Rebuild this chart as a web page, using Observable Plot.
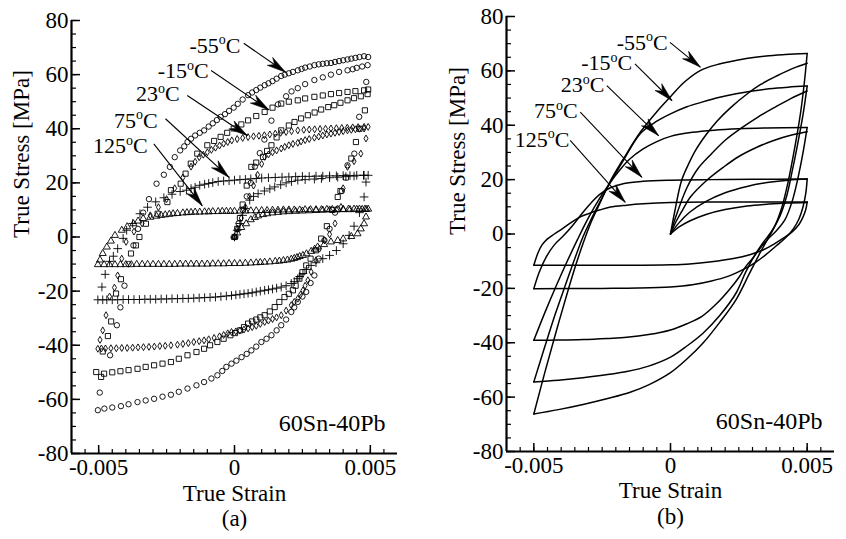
<!DOCTYPE html>
<html><head><meta charset="utf-8">
<script src="https://cdn.jsdelivr.net/npm/d3@7"></script>
<script src="https://cdn.jsdelivr.net/npm/@observablehq/plot@0.6"></script>
<style>
html,body{margin:0;padding:0;background:#fff;}
#wrap{position:relative;width:846px;height:539px;overflow:hidden;background:#fff;}
#pa,#pb{position:absolute;top:0;}
#pa{left:0px}#pb{left:423px}
svg text{fill:#000;}
</style></head>
<body><div id="wrap"><div id="pa"></div><div id="pb"></div></div>
<script>
// ---------- tick values ----------
const yMajor = [-80,-60,-40,-20,0,20,40,60,80];
const yMinor = d3.range(-16,17).map(i=>i*5);
const xMajor = [-0.005,0,0.005];
const xMinor = d3.range(-11,12).map(i=>i*0.0005);
const tempLabels = ["-55°C","-15°C","23°C","75°C","125°C"];

// ---------- panel (a): measured points [strain x1e-3, stress MPa] ----------
const a55init=[0,0,0.15,5,0.3,10,0.45,15,0.6,20,0.75,26,0.93,31,1.1,36,1.36,43,1.6,49,1.9,52,2.1,53.8,2.33,55,2.6,56.5,2.94,58,3.25,59,3.55,60,3.85,61,4.16,61.6,4.35,62,4.5,62.5,4.7,63,4.9,63.5];
const a55up=[-5.03,-64,-4.96,-57.5,-4.58,-43.7,-4.33,-32.6,-4.2,-26,-4.05,-18,-3.9,-10,-3.72,-3.1,-3.55,3,-3.36,9,-3.15,14,-2.87,19.7,-2.6,23,-2.38,25.9,-2.2,29.5,-2,32,-1.85,33.5,-1.73,35.1,-1.6,36.3,-1.45,37.5,-1.28,38.5,-1.12,39.4,-0.95,40.8,-0.8,42,-0.65,43.2,-0.51,44.4,-0.35,45.4,-0.2,46.6,-0.03,47.8,0.12,49.2,0.3,50.8,0.5,52.4,0.65,53.4,0.8,54.3,0.95,55.2,1.11,56.1,1.25,56.8,1.4,57.6,1.55,58.5,1.72,59.5,1.85,60,2,60.5,2.15,61,2.33,61.6,2.47,62.1,2.6,62.6,2.77,63,2.94,63.5,3.1,63.8,3.25,64,3.4,64.2,3.55,64.3,3.7,64.7,3.85,65,4,65.3,4.16,65.6,4.3,65.9,4.45,66.2,4.6,66.5,4.77,66.8,4.92,66.5];
const a55low=[4.85,57.3,4.59,44.4,4.41,30.8,4.16,26.5,3.95,17,3.7,9,3.5,3,3.31,-1.2,3.1,-8,2.94,-14.2,2.8,-17,2.64,-20.3,2.5,-22,2.33,-24,2.2,-26,2.09,-27.7,1.9,-30.5,1.72,-32.6,1.55,-34.5,1.36,-36.3,1.18,-37.6,0.99,-38.8,0.8,-40.5,0.62,-41.9,0.45,-43.2,0.26,-44.4,0.07,-45.7,-0.11,-46.8,-0.3,-48,-0.45,-49.5,-0.63,-51.1,-0.85,-52.3,-1.12,-53.6,-1.4,-54.8,-1.73,-56,-2.05,-57.2,-2.34,-58.3,-2.65,-59,-2.96,-59.8,-3.27,-60.4,-3.57,-61,-3.9,-61.8,-4.18,-62.5,-4.5,-63,-4.79,-63.4];

const a15init=[0,0,0.1,3,0.2,7,0.3,12,0.45,19,0.62,25.9,0.8,27.5,1.05,29.6,1.2,31.8,1.36,33.9,1.55,36.8,1.72,39.4,2,41.2,2.21,42.5,2.45,43.8,2.7,45,2.95,46,3.19,47.1,3.45,48,3.67,48.7,3.9,49.6,4.16,50.5,4.4,51.3,4.65,52,4.9,52.8];
const a15up=[-5.09,-49.9,-4.85,-42.3,-4.66,-36.6,-4.54,-31.2,-4.36,-20.9,-4.18,-15.6,-3.81,-6.1,-3.63,-3.1,-3.5,0,-3.26,4.9,-2.83,8.6,-2.47,12.9,-2.34,17.3,-1.98,19.7,-1.8,23.4,-1.61,27.1,-1.37,30.8,-1,33.9,-0.75,35.5,-0.51,37,-0.27,38.5,-0.03,40.1,0.25,41.6,0.5,43.1,0.8,44.7,1.11,46.2,1.4,47.8,1.72,49.3,2,50,2.33,50.5,2.6,51.2,2.94,51.8,3.25,52.3,3.55,52.8,3.85,53.2,4.16,53.6,4.45,53.9,4.77,54.2,4.92,54.5];
const a15low=[4.8,46.8,4.6,40,4.47,35.1,4.3,29,4.1,22,3.9,17,3.8,14.8,3.6,10,3.4,4,3.19,-0.6,3,-4.9,2.8,-8,2.64,-10.5,2.5,-13,2.39,-15.4,2.25,-18,2.15,-19.7,2,-21,1.84,-22.2,1.65,-24,1.48,-25.9,1.3,-27.5,1.11,-28.9,0.95,-29.7,0.8,-30.5,0.65,-31.2,0.5,-32,0.35,-33.3,0.2,-34.5,0.02,-35.5,-0.15,-36.3,-0.4,-37.6,-0.63,-38.8,-0.9,-40,-1.12,-41.3,-1.4,-42.5,-1.73,-43.7,-2.05,-45,-2.34,-46.2,-2.65,-46.8,-2.96,-47.4,-3.27,-48,-3.57,-48.7,-3.9,-49.2,-4.2,-49.6,-4.5,-50,-4.8,-50.5,-4.91,-51.7];

const a23init=[0,0,0.1,3,0.25,7,0.4,11,0.55,15,0.7,19,0.85,23,1,27,1.11,29.6,1.25,30.5,1.4,31.3,1.55,32,1.72,32.7,1.85,33.3,2,33.9,2.15,34.4,2.33,34.8,2.45,35.3,2.6,35.8,2.75,36.2,2.94,36.7,3.1,37.1,3.25,37.5,3.4,37.9,3.55,38.2,3.7,38.5,3.85,38.8,4,39.1,4.16,39.4,4.3,39.6,4.45,39.8,4.6,40,4.77,40.1];
const a23up=[-5.03,-41.3,-4.95,-38,-4.85,-34.5,-4.73,-28.9,-4.6,-22,-4.42,-18.7,-4.3,-14.2,-4.15,-8,-3.99,-1.8,-3.7,2,-3.4,5,-3.1,8,-2.8,11,-2.5,14,-2.2,18,-1.9,22,-1.6,26,-1.45,27.8,-1.3,29.5,-1.15,30.4,-1,31.3,-0.85,32.2,-0.7,33,-0.55,33.8,-0.4,34.5,-0.25,35.1,-0.1,35.7,0.1,36.2,0.3,36.6,0.5,36.9,0.7,37.2,0.9,37.4,1.1,37.6,1.3,37.9,1.5,38.2,1.7,38.5,1.9,38.8,2.1,39.1,2.33,39.4,2.55,39.6,2.75,39.7,2.95,39.8,3.15,39.9,3.35,40,3.55,40.1,3.75,40.2,3.95,40.3,4.15,40.4,4.35,40.5,4.55,40.6,4.77,40.7,4.92,40.7];
const a23low=[4.84,36.4,4.65,30.8,4.4,28,4.16,25.9,4,18,3.92,11.1,3.7,5,3.5,1,3.31,-1.2,3.13,-4.3,3,-8.6,2.82,-12.9,2.7,-16,2.6,-18,2.52,-19.7,2.43,-21.3,2.33,-22.8,2.2,-24,2.09,-25.2,1.9,-27.2,1.72,-28.9,1.55,-29.7,1.4,-30.3,1.25,-30.9,1.11,-31.4,0.95,-32.1,0.8,-32.8,0.65,-33.3,0.5,-33.8,0.35,-34.2,0.2,-34.6,0.05,-34.9,-0.11,-35.1,-0.25,-35.6,-0.4,-36.2,-0.55,-36.7,-0.75,-37.3,-0.95,-37.8,-1.12,-38.2,-1.3,-38.5,-1.5,-38.8,-1.7,-39.2,-1.9,-39.5,-2.1,-39.8,-2.34,-40,-2.55,-40.2,-2.75,-40.3,-2.95,-40.5,-3.15,-40.6,-3.35,-40.7,-3.55,-40.8,-3.75,-40.9,-3.95,-41,-4.15,-41,-4.35,-41.1,-4.55,-41.1,-4.75,-41.2,-4.9,-41.2];

const a75init=[0,0,0.1,2.5,0.2,5,0.3,8,0.4,10.5,0.56,13.6,0.7,15,0.87,16,1.1,17,1.3,17.8,1.48,18.5,1.7,19.3,1.9,20,2.1,20.5,2.33,21,2.6,21.2,2.94,21.4,3.2,21.6,3.5,21.9,3.8,22.1,4.1,22.3,4.4,22.5,4.77,22.8];
const a75up=[-5.03,-23.2,-4.88,-18.5,-4.76,-13.8,-4.6,-9,-4.46,-7.1,-4.3,-4.3,-4.1,-0.5,-3.97,2.5,-3.75,5,-3.48,8.6,-3.2,11,-2.9,13,-2.6,14.5,-2.3,15.8,-2,16.8,-1.77,17.3,-1.6,17.9,-1.45,18.4,-1.28,19.1,-1.1,19.5,-0.95,19.8,-0.8,20.1,-0.6,20.5,-0.4,20.7,-0.2,20.8,0,21,0.2,21.2,0.4,21.3,0.6,21.5,0.8,21.6,1,21.8,1.25,21.9,1.5,22,1.75,22.1,2,22.2,2.25,22.3,2.5,22.4,2.75,22.4,3,22.5,3.25,22.5,3.5,22.6,3.75,22.6,4,22.7,4.25,22.7,4.5,22.8,4.75,22.8,4.92,22.8];
const a75low=[4.84,20.3,4.77,14.8,4.6,9,4.4,4,4.22,0.6,4,-2.5,3.75,-5,3.5,-6.8,3.25,-8,3,-9.5,2.82,-10.5,2.65,-12,2.52,-13.5,2.4,-14.6,2.33,-15.4,2.2,-16.5,2.09,-17.2,1.9,-18,1.72,-18.5,1.55,-18.9,1.4,-19.2,1.25,-19.5,1.11,-19.7,0.95,-20,0.8,-20.3,0.65,-20.6,0.5,-20.8,0.35,-21,0.2,-21.2,0.05,-21.4,-0.11,-21.6,-0.3,-21.8,-0.5,-22,-0.7,-22.2,-0.9,-22.3,-1.1,-22.4,-1.3,-22.5,-1.5,-22.6,-1.7,-22.7,-1.9,-22.7,-2.1,-22.8,-2.3,-22.8,-2.5,-22.9,-2.7,-22.9,-2.9,-23,-3.1,-23,-3.3,-23,-3.5,-23.1,-3.7,-23.1,-3.9,-23.1,-4.1,-23.1,-4.3,-23.2,-4.5,-23.2,-4.7,-23.2,-4.85,-23.2];

const a125init=[0,0,0.1,1.5,0.25,3.5,0.43,4.9,0.6,6.4,0.75,7.2,0.87,7.8,1.05,8.3,1.2,8.6,1.4,8.9,1.6,9.1,1.8,9.3,2,9.4,2.25,9.5,2.5,9.6,2.75,9.7,3,9.8,3.25,9.9,3.5,10,3.75,10,4,10.1,4.25,10.1,4.5,10.2,4.7,10.2,4.85,10.2];
const a125up=[-5.03,-10.2,-4.95,-8.5,-4.85,-6.1,-4.7,-3.7,-4.55,-1.5,-4.4,0.6,-4.15,2.5,-3.95,3.8,-3.72,4.9,-3.55,5.9,-3.36,6.8,-3.1,7.3,-2.87,7.7,-2.7,8,-2.55,8.2,-2.4,8.4,-2.26,8.6,-2.1,8.7,-1.9,8.9,-1.75,9,-1.6,9.1,-1.45,9.2,-1.28,9.2,-1.1,9.3,-0.95,9.3,-0.8,9.4,-0.6,9.4,-0.45,9.5,-0.3,9.5,-0.15,9.5,0,9.5,0.2,9.6,0.4,9.6,0.6,9.7,0.8,9.7,1,9.8,1.2,9.8,1.4,9.9,1.6,9.9,1.8,10,2,10,2.2,10,2.4,10,2.6,10.1,2.8,10.1,3,10.1,3.2,10.1,3.4,10.2,3.6,10.2,3.8,10.2,4,10.2,4.2,10.3,4.4,10.3,4.6,10.3,4.8,10.3,4.92,10.3];
const a125low=[4.84,7.4,4.77,4.9,4.65,3,4.53,1.2,4.3,0.2,4,-0.7,3.8,-1.3,3.55,-1.8,3.3,-2.8,3.06,-3.7,2.95,-4.5,2.82,-5.3,2.65,-6.2,2.52,-6.8,2.4,-7.2,2.3,-7.6,2.2,-7.9,2.09,-8.2,1.95,-8.5,1.8,-8.7,1.65,-8.9,1.5,-9,1.3,-9.2,1.11,-9.3,0.95,-9.4,0.8,-9.5,0.6,-9.6,0.4,-9.7,0.2,-9.8,0,-9.8,-0.2,-9.8,-0.4,-9.9,-0.6,-9.9,-0.8,-9.9,-1,-10,-1.2,-10,-1.4,-10,-1.6,-10,-1.8,-10,-2,-10,-2.2,-10.1,-2.4,-10.1,-2.6,-10.1,-2.8,-10.1,-3,-10.1,-3.2,-10.1,-3.4,-10.1,-3.6,-10.1,-3.8,-10.2,-4,-10.2,-4.2,-10.2,-4.4,-10.2,-4.6,-10.2,-4.8,-10.2];

// ---------- panel (b): model curves [strain x1e-3, stress MPa] ----------
const b55init=[0,0,0.15,8,0.4,19.5,0.65,25.5,0.9,30.5,1.3,36.5,1.7,41.5,2.2,46.5,2.8,51.5,3.3,55,3.9,58.2,4.5,61,5,62.8];
const b55up=[-5,-66.2,-4.6,-51,-4.2,-36.5,-3.8,-22.5,-3.5,-12.5,-3.2,-3.5,-2.9,4.5,-2.6,11,-2.2,19.5,-1.7,28,-1.1,37.5,-0.5,45,0,50.5,0.5,55.8,1.1,60.2,1.7,62.3,2.3,63.6,2.9,64.7,3.5,65.5,4.2,66,5,66.4];
const b55low=[5,66.4,4.9,56,4.75,44,4.55,32,4.3,19,4.05,9,3.8,2.5,3.55,-2,3.3,-6.5,2.9,-14.3,2.4,-24.1,1.8,-32.5,1.2,-40,0.6,-46,0,-51,-0.8,-55.5,-1.5,-58.3,-2.3,-60.5,-3.2,-62.7,-4.1,-64.6,-5,-66.2];
const b15init=[0,0,0.2,6.5,0.6,17,1,24,1.45,29,2,34.5,2.6,39,3.2,43,3.8,46.5,4.4,49.8,5,52.6];
const b15up=[-5,-54.4,-4.6,-41.5,-4.2,-29,-3.8,-17.5,-3.5,-9,-3.2,-1,-2.9,5.5,-2.6,11.5,-2.2,19,-1.7,27.5,-1.1,37,-0.5,41.5,0,44.2,0.6,46.8,1.15,48.5,1.8,50.3,2.4,51.6,3,52.6,3.6,53.4,4.3,54,5,54.4];
const b15low=[5,54.4,4.85,44,4.65,33,4.45,23,4.25,14,4,6.5,3.7,1,3.4,-3,3.1,-7.5,2.75,-14,2.4,-21.7,1.8,-30,1.2,-36.4,0.6,-41.2,0,-45.3,-0.8,-48.6,-1.6,-50.6,-2.3,-51.7,-3.2,-52.9,-4.1,-53.8,-5,-54.4];
const b23init=[0,0,0.2,4.5,0.45,9,0.72,13.5,1.3,19.5,1.94,24.6,2.5,28.5,3.16,31.9,3.8,34.5,4.4,36.3,5,37.6];
const b23up=[-5,-39.1,-4.6,-29,-4.2,-19.5,-3.8,-10.5,-3.4,-2,-3,6,-2.6,13,-2.2,19,-1.9,23,-1.5,27.5,-1,31.3,-0.5,34,0,35.9,0.8,37.4,1.6,38.2,2.5,38.7,3.5,39,5,39.2];
const b23low=[5,39.2,4.85,30,4.65,20,4.45,12,4.2,5.5,3.9,1.5,3.6,-1.5,3.3,-5,3,-9,2.75,-12,2.5,-16,2.15,-20.5,1.7,-25.5,1.15,-30.3,0.6,-33,0,-35.3,-0.8,-37,-1.6,-38,-2.3,-38.4,-3.2,-38.8,-4.1,-39,-5,-39.1];
const b75init=[0,0,0.3,4,0.7,8,1.3,12,2,15.2,2.8,17.5,3.6,19,4.3,19.8,5,20.2];
const b75up=[-5,-20.1,-4.8,-14,-4.55,-8.5,-4.25,-4,-3.9,-0.5,-3.55,3.5,-3.2,8,-2.9,11.5,-2.6,14.5,-2.2,17,-1.7,18.6,-1,19.4,0,19.8,1.5,20,3,20.1,5,20.2];
const b75low=[5,20.2,4.95,15,4.85,10,4.7,5.5,4.5,2,4.2,-1.5,3.85,-4.5,3.5,-7.5,3.1,-10.5,2.65,-13.1,2.1,-15.6,1.5,-17.3,0.8,-18.7,0,-19.5,-1.2,-19.9,-2.5,-20,-5,-20.1];
const b125init=[0,0,0.3,2.5,0.7,4.8,1.3,7.2,2,9,2.8,10.3,3.6,11,4.3,11.4,5,11.6];
const b125up=[-5,-11.5,-4.85,-7,-4.7,-4,-4.5,-1.8,-4.25,0,-3.95,2,-3.6,4.5,-3.3,6.3,-3,7.5,-2.6,8.8,-2.2,9.9,-1.6,10.6,-1,11.1,0,11.6,1.5,11.8,3,11.8,5,11.8];
const b125low=[5,11.8,4.95,9,4.85,6.3,4.7,3.5,4.45,0.8,4.2,-1.1,3.8,-3.6,3.4,-5.8,2.9,-7.6,2.3,-9,1.5,-10.2,0.7,-11,0,-11.3,-1.5,-11.5,-5,-11.5];

// ---------- annotations: label right end [strain x1e-3, stress], arrows [tail s, tail v, tip s, tip v] ----------
const labelPosA=[[0.22,70.6],[-0.95,61.3],[-2.02,52.8],[-2.83,42.9],[-3.2,33.6]];
const arrowsA=[[0.34,71.6,1.88,60.9],[-0.86,61.5,1.26,47.0],[-1.74,52.3,0.47,37.5],[-2.54,43.7,-0.21,22.1],[-2.97,34.4,-1.19,11.6]];
const labelPosB=[[-0.1,70.3],[-1.4,62.9],[-2.42,54.8],[-3.4,45.2],[-3.7,34.6]];
const arrowsB=[[-0.02,70.5,1.09,61.4],[-1.3,62.6,0.05,49.1],[-2.33,54.6,-0.44,36.2],[-3.3,44.8,-1.05,20.9],[-3.67,34.4,-1.66,11.7]];

// ---------- helpers ----------
function pairs(arr, extra){ const out=[]; for(let i=0;i<arr.length;i+=2) out.push(Object.assign({s:arr[i]/1000, v:arr[i+1]}, extra)); return out; }
const PA={W:423,H:539,ml:71,mr:26,mt:20,mb:86};
const PB={W:423,H:539,ml:83,mr:12,mt:16,mb:88};
function frame(P){ const kx=(P.W-P.ml-P.mr)/0.012, ky=(P.H-P.mt-P.mb)/160;
  return {toPx:(s,v)=>[P.ml+(s+0.006)*kx, P.mt+(80-v)*ky], fromPx:(x,y)=>[(x-P.ml)/kx-0.006, 80-(y-P.mt)/ky]}; }
function heads(P, arrows){ const f=frame(P); const rows=[];
  arrows.forEach((a,i)=>{ const [x0,y0]=f.toPx(a[0]/1000,a[1]); const [x1,y1]=f.toPx(a[2]/1000,a[3]);
    const dx=x1-x0, dy=y1-y0, len=Math.hypot(dx,dy), ux=dx/len, uy=dy/len, nx=-uy, ny=ux, L=19, w=4.8;
    const bx=x1-L*ux, by=y1-L*uy;
    [[x1,y1],[bx+w*nx,by+w*ny],[x1-0.7*L*ux,y1-0.7*L*uy],[bx-w*nx,by-w*ny],[x1,y1]].forEach(p=>{const [s,v]=f.fromPx(p[0],p[1]); rows.push({id:i,s,v});}); });
  return rows; }
function shafts(arrows){ return arrows.map(a=>({x1:a[0]/1000,y1:a[1],x2:a[2]/1000,y2:a[3]})); }
function labels(pos){ return pos.map((p,i)=>({s:p[0]/1000, v:p[1], t:tempLabels[i]})); }

function commonMarks(P, arrows, labelPos, tag){
  const innerW=P.W-P.ml-P.mr, innerH=P.H-P.mt-P.mb;
  return [
    Plot.tickY(yMinor,{y:d=>d, insetRight:innerW-5, strokeWidth:1.2}),
    Plot.tickY(yMajor,{y:d=>d, insetRight:innerW-9, strokeWidth:1.5}),
    Plot.tickX(xMinor,{x:d=>d, insetTop:innerH-4, strokeWidth:1.2}),
    Plot.tickX(xMajor,{x:d=>d, insetTop:innerH-8, strokeWidth:1.5}),
    Plot.ruleX([-0.006],{strokeWidth:2.2}),
    Plot.ruleY([-80],{strokeWidth:2.2}),
    Plot.axisY(yMajor,{tickSize:0, tickPadding:3, tickFormat:d=>String(d), label:null, fill:"black"}),
    Plot.axisX(xMajor,{tickSize:0, tickPadding:5, tickFormat:d=>String(d), label:null, fill:"black"}),
    Plot.text(["True Stress [MPa]"],{frameAnchor:"left", rotate:-90, dx:-(P.ml-(tag==="a"?21:34)), dy:1, fill:"black"}),
    Plot.text(["True Strain"],{frameAnchor:"bottom", lineAnchor:"top", dy:tag==="a"?31:30, fill:"black"}),
    Plot.text([`(${tag})`],{frameAnchor:"bottom", dy:72, fill:"black"}),
    Plot.text(["60Sn-40Pb"],{frameAnchor:"bottom-right", textAnchor:"end", dx:-12, dy:-23, fontSize:24, fill:"black"}),
    Plot.link(shafts(arrows),{x1:"x1",y1:"y1",x2:"x2",y2:"y2", stroke:"black", strokeWidth:1.1}),
    Plot.line(heads(P, arrows),{x:"s", y:"v", z:"id", fill:"black", stroke:"black", strokeWidth:0.6}),
    Plot.text(labels(labelPos),{x:"s", y:"v", text:"t", textAnchor:"end", fontSize:22, fill:"black"})
  ];
}
function supDeg(svg){
  d3.select(svg).selectAll("text").each(function(){
    const t=this.textContent; const m=t.match(/^(.*)°C$/);
    if(m){ const el=d3.select(this); el.text(null);
      el.append("tspan").text(m[1]);
      el.append("tspan").attr("font-size","14px").attr("dy","-8.5").text("o");
      el.append("tspan").attr("dy","8.5").text("C"); }
  });
}
const style={fontFamily:"'Liberation Serif','Times New Roman',serif", fontSize:"23px", color:"black", background:"white", overflow:"visible"};

// ---------- panel (a) ----------
const seriesA=[
  {sym:"circle", r:2.7, arrs:[a55init,a55up,a55low]},
  {sym:"square", r:2.9, arrs:[a15init,a15up,a15low]},
  {sym:"diamond", r:2.1, arrs:[a23init,a23up,a23low]},
  {sym:"plus", r:2.9, arrs:[a75init,a75up,a75low]},
  {sym:"triangle", r:2.6, arrs:[a125init,a125up,a125low]}
];
const dotMarks=seriesA.map(S=>Plot.dot(S.arrs.flatMap(a=>pairs(a)),{x:"s", y:"v", symbol:S.sym, r:S.r, fill:"none", stroke:"black", strokeWidth:0.9}));
const plotA=Plot.plot({
  width:PA.W, height:PA.H, marginLeft:PA.ml, marginRight:PA.mr, marginTop:PA.mt, marginBottom:PA.mb,
  x:{domain:[-0.006,0.006]}, y:{domain:[-80,80]}, style,
  marks:[...dotMarks, ...commonMarks(PA, arrowsA, labelPosA, "a")]
});
supDeg(plotA);
document.getElementById("pa").appendChild(plotA);

// ---------- panel (b) ----------
const seriesB=[[b55init,b55up,b55low],[b15init,b15up,b15low],[b23init,b23up,b23low],[b75init,b75up,b75low],[b125init,b125up,b125low]];
const rowsB=seriesB.flatMap((S,ti)=>S.flatMap((a,bi)=>pairs(a,{id:ti+"-"+bi})));
const plotB=Plot.plot({
  width:PB.W, height:PB.H, marginLeft:PB.ml, marginRight:PB.mr, marginTop:PB.mt, marginBottom:PB.mb,
  x:{domain:[-0.006,0.006]}, y:{domain:[-80,80]}, style,
  marks:[Plot.line(rowsB,{x:"s", y:"v", z:"id", curve:"catmull-rom", stroke:"black", strokeWidth:1.5}),
         ...commonMarks(PB, arrowsB, labelPosB, "b")]
});
supDeg(plotB);
document.getElementById("pb").appendChild(plotB);
</script>
</body></html>
